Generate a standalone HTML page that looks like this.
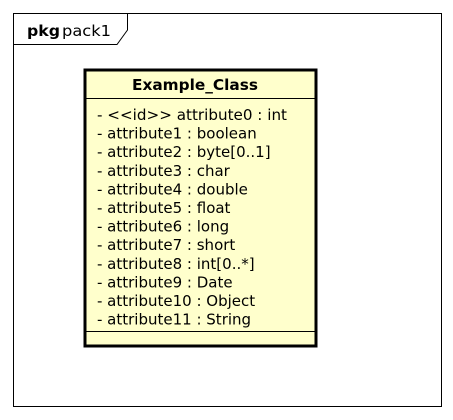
<!DOCTYPE html>
<html><head><style>
body{margin:0;background:#fff;}
svg{display:block;}
text{font-family:"DejaVu Sans","Liberation Sans",sans-serif;font-size:15px;fill:#000;}
</style></head><body>
<svg width="453" height="420" viewBox="0 0 453 420">
<rect x="13.5" y="13.5" width="428" height="393" fill="#fff" stroke="#000" stroke-width="1"/>
<path d="M13.5 44.5 H117 L127.5 30 V13.5" fill="none" stroke="#000" stroke-width="1"/>
<text x="27" y="36" style="font-weight:bold" textLength="33" lengthAdjust="spacingAndGlyphs">pkg</text>
<text x="62" y="36" textLength="49" lengthAdjust="spacingAndGlyphs">pack1</text>
<rect x="85" y="70" width="231" height="276" fill="#ffffcc" stroke="#000" stroke-width="3"/>
<line x1="85" y1="98.5" x2="316" y2="98.5" stroke="#000" stroke-width="1"/>
<line x1="85" y1="331.5" x2="316" y2="331.5" stroke="#000" stroke-width="1"/>
<text x="132" y="90" style="font-weight:bold" textLength="126" lengthAdjust="spacingAndGlyphs">Example_Class</text>
<g>
<text x="97" y="120" textLength="190" lengthAdjust="spacingAndGlyphs">- &lt;&lt;id&gt;&gt; attribute0 : int</text>
<text x="97" y="138.6">- attribute1 : boolean</text>
<text x="97" y="157.2">- attribute2 : byte[0..1]</text>
<text x="97" y="175.8">- attribute3 : char</text>
<text x="97" y="194.4">- attribute4 : double</text>
<text x="97" y="213">- attribute5 : float</text>
<text x="97" y="231.6">- attribute6 : long</text>
<text x="97" y="250.2">- attribute7 : short</text>
<text x="97" y="268.8">- attribute8 : int[0..*]</text>
<text x="97" y="287.4">- attribute9 : Date</text>
<text x="97" y="306">- attribute10 : Object</text>
<text x="97" y="324.6">- attribute11 : String</text>
</g>
</svg>
</body></html>
